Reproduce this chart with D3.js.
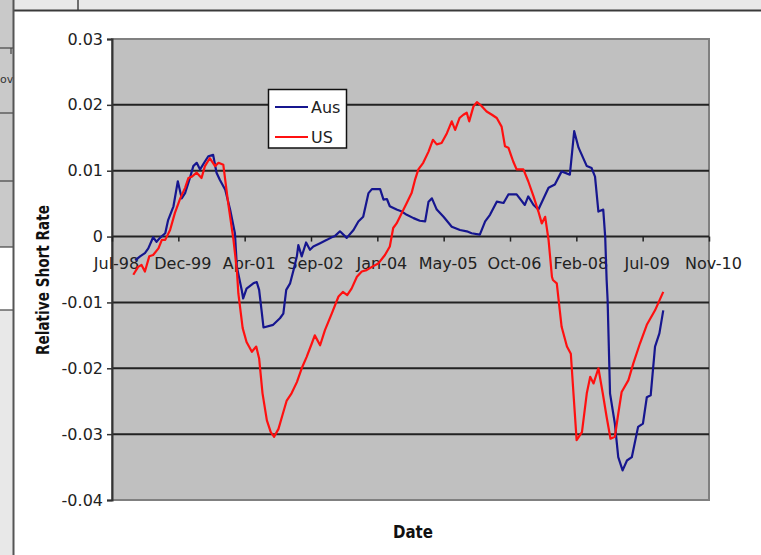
<!DOCTYPE html>
<html>
<head>
<meta charset="utf-8">
<script src="https://cdn.jsdelivr.net/npm/d3@7"></script>
<style>
  html, body { margin: 0; padding: 0; background: #fff; }
  svg { display: block; font-family: "DejaVu Sans", sans-serif; }
</style>
</head>
<body>
<svg id="chart" width="761" height="555"></svg>
<script>
// Category labels along the date axis (evenly spaced)
const xTickLabels = ["Jul-98", "Dec-99", "Apr-01", "Sep-02", "Jan-04", "May-05", "Oct-06", "Feb-08", "Jul-09", "Nov-10"];
// Value axis ticks and their labels
const yTickValues = [0.03, 0.02, 0.01, 0, -0.01, -0.02, -0.03, -0.04];
const yTickLabels = ["0.03", "0.02", "0.01", "0", "-0.01", "-0.02", "-0.03", "-0.04"];
const seriesNames = ["Aus", "US"];

// Relative short rate, Australia: [decimal year, value]
const ausSeries = [
  [1999.02,-0.0036],[1999.12,-0.0030],[1999.22,-0.0025],[1999.29,-0.0018],[1999.39,-0.0001],
  [1999.46,-0.0008],[1999.53,-0.0002],[1999.64,0.0005],[1999.70,0.0025],[1999.81,0.0046],
  [1999.90,0.0084],[1999.98,0.0058],[2000.05,0.0066],[2000.15,0.0089],[2000.22,0.0107],
  [2000.29,0.0112],[2000.36,0.0102],[2000.46,0.0114],[2000.53,0.0122],[2000.63,0.0124],
  [2000.70,0.0097],[2000.77,0.0086],[2000.88,0.0071],[2000.98,0.0041],[2001.08,0.0005],
  [2001.12,-0.0046],[2001.22,-0.0081],[2001.25,-0.0094],[2001.32,-0.0079],[2001.46,-0.0071],
  [2001.53,-0.0069],[2001.58,-0.0081],[2001.63,-0.0112],[2001.67,-0.0138],[2001.87,-0.0134],
  [2002.01,-0.0124],[2002.08,-0.0117],[2002.14,-0.0081],[2002.22,-0.0071],[2002.29,-0.0051],
  [2002.36,-0.0030],[2002.39,-0.0013],[2002.46,-0.0030],[2002.55,-0.0009],[2002.63,-0.0020],
  [2002.70,-0.0015],[2002.84,-0.0010],[2002.98,-0.0005],[2003.08,-0.0001],[2003.15,0.0001],
  [2003.25,0.0008],[2003.39,-0.0002],[2003.53,0.0010],[2003.63,0.0023],[2003.73,0.0030],
  [2003.84,0.0066],[2003.91,0.0072],[2004.08,0.0072],[2004.15,0.0056],[2004.22,0.0057],
  [2004.28,0.0046],[2004.42,0.0041],[2004.53,0.0038],[2004.63,0.0033],[2004.77,0.0028],
  [2004.90,0.0024],[2005.01,0.0023],[2005.08,0.0053],[2005.15,0.0058],[2005.25,0.0041],
  [2005.39,0.0030],[2005.56,0.0015],[2005.73,0.0010],[2005.87,0.0008],[2005.97,0.0005],
  [2006.14,0.0003],[2006.25,0.0023],[2006.35,0.0033],[2006.49,0.0053],[2006.63,0.0051],
  [2006.73,0.0064],[2006.90,0.0064],[2007.07,0.0048],[2007.14,0.0061],[2007.25,0.0048],
  [2007.35,0.0041],[2007.56,0.0074],[2007.69,0.0079],[2007.83,0.0099],[2008.00,0.0094],
  [2008.09,0.0160],[2008.18,0.0135],[2008.35,0.0107],[2008.45,0.0104],[2008.52,0.0091],
  [2008.59,0.0038],[2008.69,0.0041],[2008.73,0.0000],[2008.76,-0.0066],[2008.78,-0.0096],
  [2008.83,-0.0238],[2008.93,-0.0284],[2009.00,-0.0335],[2009.09,-0.0355],[2009.18,-0.0340],
  [2009.28,-0.0335],[2009.41,-0.0289],[2009.51,-0.0284],[2009.59,-0.0244],[2009.67,-0.0241],
  [2009.76,-0.0167],[2009.85,-0.0147],[2009.93,-0.0112]
];

// Relative short rate, United States: [decimal year, value]
const usSeries = [
  [1998.98,-0.0058],[1999.08,-0.0046],[1999.15,-0.0043],[1999.22,-0.0053],[1999.31,-0.0030],
  [1999.39,-0.0028],[1999.50,-0.0018],[1999.57,-0.0005],[1999.64,-0.0005],[1999.74,0.0010],
  [1999.84,0.0036],[1999.95,0.0058],[2000.05,0.0074],[2000.12,0.0089],[2000.19,0.0091],
  [2000.29,0.0097],[2000.39,0.0089],[2000.46,0.0107],[2000.56,0.0119],[2000.67,0.0107],
  [2000.74,0.0112],[2000.84,0.0109],[2000.94,0.0051],[2001.05,-0.0005],[2001.12,-0.0051],
  [2001.15,-0.0086],[2001.24,-0.0139],[2001.32,-0.0160],[2001.43,-0.0175],[2001.52,-0.0167],
  [2001.58,-0.0185],[2001.65,-0.0238],[2001.74,-0.0279],[2001.82,-0.0297],[2001.89,-0.0304],
  [2001.98,-0.0292],[2002.07,-0.0269],[2002.15,-0.0249],[2002.25,-0.0238],[2002.36,-0.0221],
  [2002.46,-0.0200],[2002.56,-0.0183],[2002.67,-0.0162],[2002.73,-0.0150],[2002.84,-0.0165],
  [2002.94,-0.0142],[2003.08,-0.0117],[2003.22,-0.0091],[2003.31,-0.0084],[2003.40,-0.0089],
  [2003.49,-0.0079],[2003.60,-0.0061],[2003.70,-0.0053],[2003.80,-0.0051],[2003.91,-0.0046],
  [2004.04,-0.0041],[2004.18,-0.0028],[2004.28,-0.0015],[2004.35,0.0013],[2004.42,0.0020],
  [2004.53,0.0036],[2004.63,0.0051],[2004.73,0.0066],[2004.80,0.0086],[2004.87,0.0102],
  [2004.97,0.0112],[2005.08,0.0129],[2005.17,0.0147],[2005.25,0.0140],[2005.35,0.0142],
  [2005.46,0.0157],[2005.56,0.0175],[2005.63,0.0162],[2005.72,0.0180],[2005.80,0.0185],
  [2005.87,0.0188],[2005.92,0.0175],[2006.01,0.0198],[2006.08,0.0204],[2006.18,0.0198],
  [2006.28,0.0190],[2006.39,0.0185],[2006.49,0.0180],[2006.59,0.0167],[2006.66,0.0137],
  [2006.73,0.0135],[2006.83,0.0114],[2006.90,0.0102],[2007.04,0.0102],[2007.14,0.0084],
  [2007.25,0.0061],[2007.35,0.0038],[2007.42,0.0020],[2007.49,0.0030],[2007.56,-0.0005],
  [2007.63,-0.0061],[2007.65,-0.0066],[2007.73,-0.0071],[2007.83,-0.0137],[2007.94,-0.0167],
  [2008.02,-0.0178],[2008.07,-0.0233],[2008.14,-0.0309],[2008.25,-0.0297],[2008.35,-0.0238],
  [2008.42,-0.0213],[2008.49,-0.0223],[2008.59,-0.0200],[2008.68,-0.0238],[2008.76,-0.0274],
  [2008.84,-0.0307],[2008.93,-0.0304],[2009.00,-0.0269],[2009.07,-0.0236],[2009.21,-0.0218],
  [2009.31,-0.0193],[2009.45,-0.0162],[2009.59,-0.0134],[2009.76,-0.0112],[2009.93,-0.0084]
];

const seriesColors = ["#16168f", "#ff1010"];

const svg = d3.select("#chart");

// ---- surrounding spreadsheet window frame ----
const frame = svg.append("g");
frame.append("rect").attr("x", 0).attr("y", 0).attr("width", 761).attr("height", 11).attr("fill", "#e8e8e8");
frame.append("line").attr("x1", 78).attr("x2", 78).attr("y1", 0).attr("y2", 10).attr("stroke", "#444").attr("stroke-width", 1.5);
frame.append("line").attr("x1", 12).attr("x2", 761).attr("y1", 10.5).attr("y2", 10.5).attr("stroke", "#3a3a3a").attr("stroke-width", 2);
frame.append("rect").attr("x", 0).attr("y", 0).attr("width", 13).attr("height", 247).attr("fill", "#c9c9c9");
frame.append("rect").attr("x", 0).attr("y", 310).attr("width", 13).attr("height", 245).attr("fill", "#e8e8e8");
[48, 113, 181, 247, 310].forEach(yy => {
  frame.append("line").attr("x1", 0).attr("x2", 13).attr("y1", yy).attr("y2", yy)
    .attr("stroke", "#444").attr("stroke-width", 1.2);
});
frame.append("line").attr("x1", 11).attr("x2", 11).attr("y1", 48).attr("y2", 54).attr("stroke", "#444").attr("stroke-width", 1.2);
frame.append("text").attr("x", 0).attr("y", 83)
  .attr("font-size", 11).attr("fill", "#333").text("ov");
frame.append("line").attr("x1", 13.5).attr("x2", 13.5).attr("y1", 0).attr("y2", 555).attr("stroke", "#555").attr("stroke-width", 2);

// ---- plot geometry ----
const plot = { left: 112, right: 709, top: 39, bottom: 500 };
const xStart = 1998.54, xStep = 1.37056;
const x = d3.scaleLinear().domain([xStart, xStart + 9 * xStep]).range([plot.left, plot.right]);
const y = d3.scaleLinear().domain([-0.04, 0.03]).range([plot.bottom, plot.top]);

svg.append("rect")
  .attr("x", plot.left).attr("y", plot.top)
  .attr("width", plot.right - plot.left).attr("height", plot.bottom - plot.top)
  .attr("fill", "#c0c0c0").attr("stroke", "#808080").attr("stroke-width", 2);

// horizontal gridlines
svg.append("g").selectAll("line")
  .data(yTickValues.filter(v => v < 0.03 && v > -0.04))
  .join("line")
  .attr("x1", plot.left).attr("x2", plot.right)
  .attr("y1", d => y(d)).attr("y2", d => y(d))
  .attr("stroke", "#222").attr("stroke-width", 2);

// value axis
const yAxis = svg.append("g")
  .attr("transform", `translate(${plot.left},0)`)
  .call(d3.axisLeft(y).tickValues(yTickValues).tickSize(5).tickPadding(4)
    .tickFormat((d, i) => yTickLabels[i]));
yAxis.select(".domain").attr("stroke", "#333").attr("stroke-width", 2);
yAxis.selectAll(".tick line").attr("stroke", "#333").attr("stroke-width", 1.5);
yAxis.selectAll(".tick text").attr("font-size", 16).attr("fill", "#222")
  .attr("font-family", "DejaVu Sans, sans-serif");

// date axis, drawn along the zero line
const tickPositions = xTickLabels.map((_, i) => xStart + i * xStep);
const xAxis = svg.append("g")
  .attr("transform", `translate(0,${y(0)})`)
  .call(d3.axisBottom(x).tickValues(tickPositions).tickSize(5).tickPadding(16)
    .tickFormat((d, i) => xTickLabels[i]));
xAxis.select(".domain").remove();
xAxis.selectAll(".tick line").attr("stroke", "#222").attr("stroke-width", 1.5);
xAxis.selectAll(".tick text").attr("font-size", 16).attr("fill", "#222").attr("dx", 4)
  .attr("font-family", "DejaVu Sans, sans-serif");

// series lines
const line = d3.line().x(d => x(d[0])).y(d => y(d[1]));
[ausSeries, usSeries].forEach((s, i) => {
  svg.append("path").datum(s)
    .attr("d", line)
    .attr("fill", "none")
    .attr("stroke", seriesColors[i])
    .attr("stroke-width", 2.2)
    .attr("stroke-linejoin", "round");
});

// legend
const legend = svg.append("g");
legend.append("rect").attr("x", 268.5).attr("y", 89.5).attr("width", 78).attr("height", 58.5)
  .attr("fill", "#fff").attr("stroke", "#111").attr("stroke-width", 1.5);
seriesNames.forEach((name, i) => {
  const ly = 107 + i * 30;
  legend.append("line").attr("x1", 275).attr("x2", 308).attr("y1", ly).attr("y2", ly)
    .attr("stroke", seriesColors[i]).attr("stroke-width", 2.2);
  legend.append("text").attr("x", 311).attr("y", ly + 6).attr("font-size", 16).attr("fill", "#222").text(name);
});

// axis titles
svg.append("text")
  .attr("transform", "translate(49,280) rotate(-90)")
  .attr("text-anchor", "middle")
  .attr("font-weight", "bold").attr("font-size", 18).attr("fill", "#111")
  .attr("textLength", 150).attr("lengthAdjust", "spacingAndGlyphs")
  .text("Relative Short Rate");

svg.append("text")
  .attr("x", 393).attr("y", 538)
  .attr("font-weight", "bold").attr("font-size", 18).attr("fill", "#111")
  .attr("textLength", 40).attr("lengthAdjust", "spacingAndGlyphs")
  .text("Date");
</script>
</body>
</html>
